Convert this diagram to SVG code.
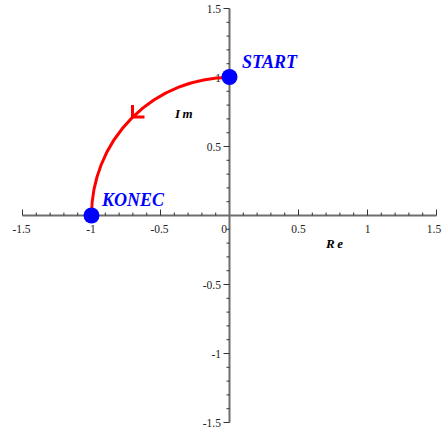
<svg xmlns="http://www.w3.org/2000/svg" width="448" height="433" viewBox="0 0 448 433">
<style>
.axis{stroke:#6e6e6e;stroke-width:2;fill:none}
.tick{stroke:#333;stroke-width:1;fill:none}
.num{font-family:'Liberation Serif','Times New Roman',Tinos,'DejaVu Serif',serif;font-size:11.5px;fill:#222}
.lab{font-family:'Liberation Serif','Times New Roman',Tinos,'DejaVu Serif',serif;font-weight:bold;font-style:italic;fill:#0000ff;font-size:18px}
.axl{font-family:'Liberation Serif','Times New Roman',Tinos,'DejaVu Serif',serif;font-weight:bold;font-style:italic;fill:#000;font-size:13px;letter-spacing:2.5px}
.curve{stroke:#ff0000;stroke-width:3;fill:none}
.dot{fill:#0000ff}
</style>
<rect width="448" height="433" fill="#fff"/>
<g id="axes">
<path class="axis" d="M22.5,215.5H436.5M229.5,8.5V422.5"/>
<path class="tick" d="M22.5,215.5v-6M36.3,215.5v-3M50.1,215.5v-3M63.9,215.5v-3M77.7,215.5v-3M91.5,215.5v-6M105.3,215.5v-3M119.1,215.5v-3M132.9,215.5v-3M146.7,215.5v-3M160.5,215.5v-6M174.3,215.5v-3M188.1,215.5v-3M201.9,215.5v-3M215.7,215.5v-3M243.3,215.5v-3M257.1,215.5v-3M270.9,215.5v-3M284.7,215.5v-3M298.5,215.5v-6M312.3,215.5v-3M326.1,215.5v-3M339.9,215.5v-3M353.7,215.5v-3M367.5,215.5v-6M381.3,215.5v-3M395.1,215.5v-3M408.9,215.5v-3M422.7,215.5v-3M436.5,215.5v-6"/>
<path class="tick" d="M229.5,8.5h-6M229.5,22.3h-3M229.5,36.1h-3M229.5,49.9h-3M229.5,63.7h-3M229.5,77.5h-6M229.5,91.3h-3M229.5,105.1h-3M229.5,118.9h-3M229.5,132.7h-3M229.5,146.5h-6M229.5,160.3h-3M229.5,174.1h-3M229.5,187.9h-3M229.5,201.7h-3M229.5,229.3h-3M229.5,243.1h-3M229.5,256.9h-3M229.5,270.7h-3M229.5,284.5h-6M229.5,298.3h-3M229.5,312.1h-3M229.5,325.9h-3M229.5,339.7h-3M229.5,353.5h-6M229.5,367.3h-3M229.5,381.1h-3M229.5,394.9h-3M229.5,408.7h-3M229.5,422.5h-6"/>
<g class="num" text-anchor="middle">
<text x="21.5" y="233">-1.5</text>
<text x="91" y="233">-1</text>
<text x="159.5" y="233">-0.5</text>
<text x="224" y="233">0</text>
<text x="298.5" y="233">0.5</text>
<text x="367.5" y="233">1</text>
<text x="434" y="233">1.5</text>
</g>
<g class="num" text-anchor="end">
<text x="221" y="12.5">1.5</text>
<text x="221" y="81.5">1</text>
<text x="221" y="150.5">0.5</text>
<text x="221" y="288.5">-0.5</text>
<text x="221" y="357.5">-1</text>
<text x="221" y="426.5">-1.5</text>
</g>
<text class="axl" x="175" y="118">Im</text>
<text class="axl" x="326" y="248">Re</text>
</g>
<g id="connectors">
<path class="curve" d="M229.5,77.5A138,138 0 0 0 91.5,215.5"/>
<path class="curve" d="M132.5,105V117H144.5"/>
</g>
<g id="start">
<circle class="dot" cx="229.5" cy="77" r="8"/>
<text class="lab" x="242" y="68">START</text>
</g>
<g id="konec">
<circle class="dot" cx="91.5" cy="215.5" r="8"/>
<text class="lab" x="102" y="206">KONEC</text>
</g>
</svg>
